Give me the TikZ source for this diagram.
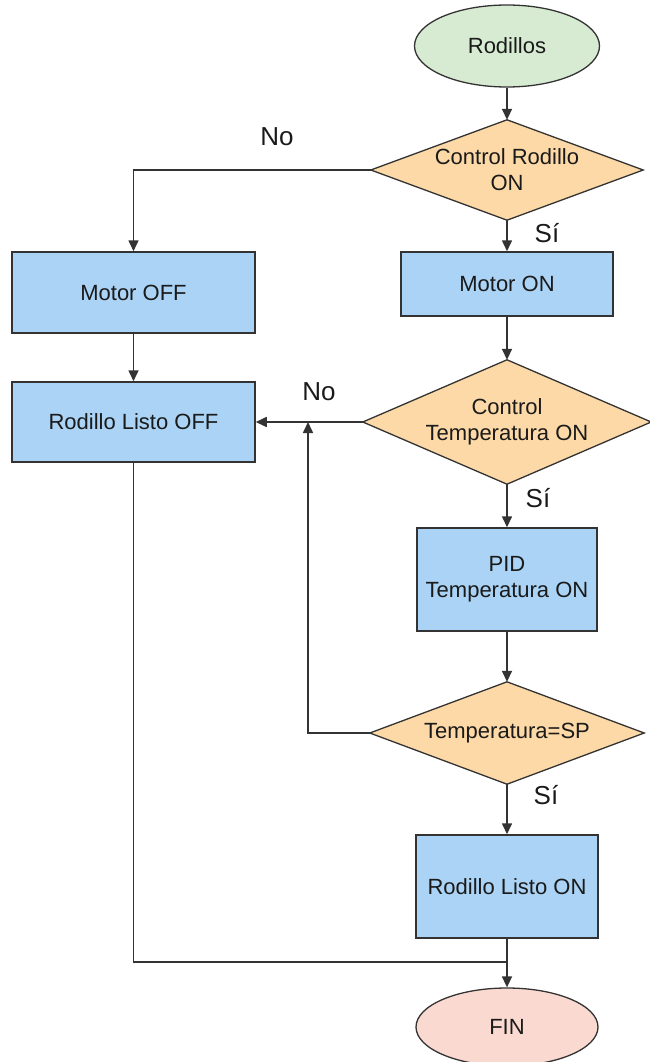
\documentclass[tikz,border=0pt]{standalone}
\usepackage{fontspec}
\setmainfont{Liberation Sans}
\usetikzlibrary{shapes.geometric,arrows.meta,backgrounds}
\definecolor{startfill}{HTML}{D6EBD1}
\definecolor{endfill}{HTML}{FAD9D0}
\definecolor{decfill}{HTML}{FCD9A6}
\definecolor{procfill}{HTML}{AAD3F5}
\definecolor{edge}{HTML}{333333}
\definecolor{ink}{HTML}{1A1A1A}
\begin{document}
\begin{tikzpicture}[x=1pt,y=-1pt,
  every node/.style={text=ink,font=\fontsize{22}{26}\selectfont,align=center},
  terminal/.style={ellipse,draw=edge,line width=1.3pt,inner sep=0pt},
  procbox/.style={rectangle,draw=edge,fill=procfill,line width=1.5pt,inner sep=0pt},
  decision/.style={rectangle,inner sep=0pt},
  branch/.style={font=\fontsize{26}{30}\selectfont},
  flow/.style={draw=edge,line width=1.6pt,-{Triangle[length=11pt,width=10pt]}},
  plain/.style={draw=edge,line width=1.6pt}]
\useasboundingbox (0,0) rectangle (650,1062);

% terminals
\node[terminal,fill=startfill,minimum width=185pt,minimum height=82pt] (start) at (507,46) {Rodillos};
\node[terminal,fill=endfill,minimum width=182pt,minimum height=78pt] (fin) at (507,1027) {FIN};

% decisions (diamonds drawn on the background layer from the node anchors)
\node[decision,minimum width=272pt,minimum height=100pt] (d1) at (507,170) {Control Rodillo\\ON};
\node[decision,minimum width=288pt,minimum height=124pt] (d2) at (507,422) {Control\\Temperatura ON};
\node[decision,minimum width=274pt,minimum height=102pt] (d3) at (507,733) {Temperatura=SP};

% processes
\node[procbox,minimum width=243pt,minimum height=81pt] (moff) at (133.5,292.5) {Motor OFF};
\node[procbox,minimum width=243pt,minimum height=80pt] (loff) at (133.5,422) {Rodillo Listo OFF};
\node[procbox,minimum width=212pt,minimum height=64pt] (mon) at (507,284) {Motor ON};
\node[procbox,minimum width=180pt,minimum height=103pt] (pid) at (507,579.5) {PID\\Temperatura ON};
\node[procbox,minimum width=182pt,minimum height=103pt] (lon) at (507,886.5) {Rodillo Listo ON};

\begin{scope}[on background layer]
  \foreach \d in {d1,d2,d3}
    \draw[draw=edge,fill=decfill,line width=1.3pt,line join=miter]
      (\d.north) -- (\d.east) -- (\d.south) -- (\d.west) -- cycle;
\end{scope}

% branch labels
\node[branch] (no1) at (277,137) {No};
\node[branch] (no2) at (319,392) {No};
\node[branch] (si1) at (547,233) {Sí};
\node[branch] (si2) at (538,498) {Sí};
\node[branch] (si3) at (546,795) {Sí};

% junction points
\coordinate (j) at (308,422);
\coordinate (m) at (507,962);

% connectors
\draw[flow] (start.south) -- (d1.north);
\draw[flow] (d1.west) -| (moff.north);
\draw[flow] (d1.south) -- (mon.north);
\draw[flow] (moff.south) -- (loff.north);
\draw[flow] (mon.south) -- (d2.north);
\draw[flow] (d2.west) -- (loff.east);
\draw[flow] (d2.south) -- (pid.north);
\draw[flow] (pid.south) -- (d3.north);
\draw[flow] (d3.west) -| (j);
\draw[flow] (d3.south) -- (lon.north);
\draw[flow] (lon.south) -- (fin.north);
\draw[plain] (loff.south) |- (m);
\end{tikzpicture}
\end{document}
